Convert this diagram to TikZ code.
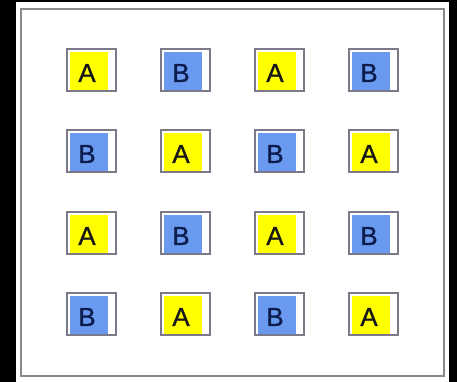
\documentclass[tikz,border=0pt]{standalone}
\usepackage{fontspec}
\setmainfont{Liberation Sans}
\newfontfamily\cellfont[FakeBold=0.9]{Liberation Sans}
\definecolor{cellA}{HTML}{FFFF00}
\definecolor{cellB}{HTML}{6A9AF0}
\definecolor{inkA}{HTML}{161616}
\definecolor{inkB}{HTML}{0C1C4C}
\definecolor{boxline}{HTML}{7C7A88}
\definecolor{framegray}{HTML}{8A8A8A}
\tikzset{
  cellborder/.style={draw=boxline, line width=1.4pt},
  letterA/.style={text=inkA, font=\cellfont\fontsize{26}{26}\selectfont, inner sep=0pt},
  letterB/.style={text=inkB, font=\cellfont\fontsize{26}{26}\selectfont, inner sep=0pt},
}
\newcommand{\mycell}[4]{% x0, y0, letter, name
  \ifx A#3
    \fill[cellA] (#1+3,#2+3) rectangle (#1+41,#2+41);
    \node[letterA] (#4) at (#1+20,#2+24) {A};
  \else
    \fill[cellB] (#1+3,#2+3) rectangle (#1+41,#2+41);
    \node[letterB] (#4) at (#1+20,#2+24) {B};
  \fi
  \draw[cellborder] (#1,#2) rectangle (#1+49,#2+42);
}
\begin{document}
\begin{tikzpicture}[x=1pt,y=-1pt]
\fill[black] (0,0) rectangle (457,382);
\fill[white] (16,2) rectangle (449,382);
\useasboundingbox (0,0) rectangle (457,382);
\draw[framegray, line width=2pt] (21,9) rectangle (444,376);
\mycell{67}{49}{A}{a11}
\mycell{161}{49}{B}{a12}
\mycell{255}{49}{A}{a13}
\mycell{349}{49}{B}{a14}
\mycell{67}{130}{B}{a21}
\mycell{161}{130}{A}{a22}
\mycell{255}{130}{B}{a23}
\mycell{349}{130}{A}{a24}
\mycell{67}{212}{A}{a31}
\mycell{161}{212}{B}{a32}
\mycell{255}{212}{A}{a33}
\mycell{349}{212}{B}{a34}
\mycell{67}{293}{B}{a41}
\mycell{161}{293}{A}{a42}
\mycell{255}{293}{B}{a43}
\mycell{349}{293}{A}{a44}
\end{tikzpicture}
\end{document}
